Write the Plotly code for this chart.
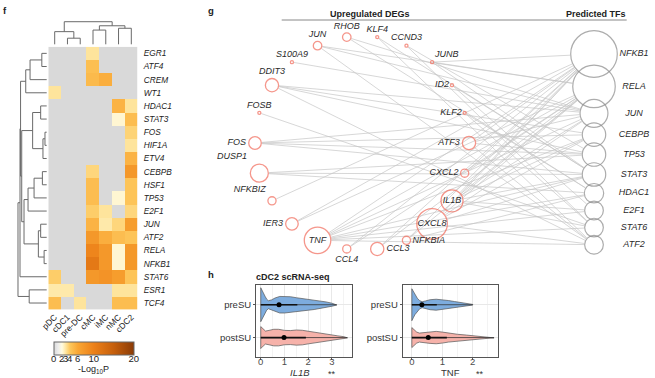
import math
import plotly.graph_objects as go

W, H = 655, 378
def fx(p): return p / W
def fy(p): return 1 - p / H

FONT = "Liberation Sans, Arial, sans-serif"

# ---------------- panel f : heatmap data ----------------
hm_cols = ["pDC", "cDC1", "pre-DC", "cMC", "iMC", "nMC", "cDC2"]
hm_rows = ["EGR1", "ATF4", "CREM", "WT1", "HDAC1", "STAT3", "FOS", "HIF1A", "ETV4",
           "CEBPB", "HSF1", "TP53", "E2F1", "JUN", "ATF2", "RELA", "NFKB1", "STAT6",
           "ESR1", "TCF4"]
hm_vals = [
    [0, 0, 0, 3.0, 0, 0, 0],          # EGR1
    [0, 0, 0, 4.5, 0, 0, 0],          # ATF4
    [0, 0, 0, 4.8, 5.5, 0, 0],        # CREM
    [3.0, 0, 0, 0, 0, 0, 0],          # WT1
    [0, 0, 0, 0, 0, 5.2, 3.0],        # HDAC1
    [0, 0, 0, 0, 0, 2.2, 4.6],        # STAT3
    [0, 0, 0, 0, 0, 0, 3.6],          # FOS
    [0, 0, 0, 0, 0, 0, 3.0],          # HIF1A
    [0, 0, 0, 0, 0, 0, 5.2],          # ETV4
    [0, 0, 0, 3.5, 0, 0, 7.5],        # CEBPB
    [0, 0, 0, 4.6, 0, 0, 4.2],        # HSF1
    [0, 0, 0, 4.6, 0, 2.2, 4.2],      # TP53
    [0, 0, 0, 3.8, 3.0, 0, 3.5],      # E2F1
    [0, 0, 0, 5.2, 2.8, 3.5, 7.0],    # JUN
    [0, 0, 0, 7.5, 5.5, 4.6, 4.2],    # ATF2
    [0, 0, 0, 9.5, 7.5, 2.2, 7.5],    # RELA
    [0, 0, 0, 11.0, 7.5, 2.2, 7.5],   # NFKB1
    [3.8, 0, 0, 7.5, 8.0, 7.0, 4.2],  # STAT6
    [2.8, 2.8, 0, 0, 0, 3.0, 3.0],    # ESR1
    [4.6, 0, 3.0, 0, 0, 4.6, 4.6],    # TCF4
]
cbar_ticks = [0, 2, 3, 4, 6, 10, 20]
# hierarchical clustering merges: (child a, child b, height)
col_merges = [(1, 2, 2.7), (0, 7, 5.6), (3, 4, 6.3), (5, 6, 7.1), (9, 10, 8.2), (8, 11, 10.0)]
row_merges = [(0, 1, 1.7), (20, 2, 5.8), (21, 3, 7.3), (4, 5, 2.1), (6, 7, 0.6), (24, 8, 1.3),
              (23, 25, 4.9), (9, 10, 1.5), (27, 11, 4.4), (28, 12, 6.5), (13, 14, 2.1),
              (15, 16, 0.9), (30, 31, 2.9), (29, 32, 7.9), (26, 33, 8.7), (22, 34, 9.1),
              (35, 17, 9.3), (18, 19, 6.1), (36, 37, 10.0)]

# ---------------- panel g : network data ----------------
deg_names = ["ATF3", "KLF2", "ID2", "JUNB", "CCND3", "KLF4", "RHOB", "JUN", "S100A9", "DDIT3",
             "FOSB", "FOS", "DUSP1", "NFKBIZ", "IER3", "TNF", "CCL4", "CCL3", "NFKBIA",
             "CXCL8", "IL1B", "CXCL2"]
deg_weight = [3.9, 0.9, 0.9, 0.9, 0.9, 0.9, 2.5, 2.5, 0.9, 3.9,
              0.9, 3.7, 5.3, 2.4, 3.7, 7.8, 2.4, 3.9, 2.4,
              9.0, 6.5, 2.4]
tf_names = ["NFKB1", "RELA", "JUN", "CEBPB", "TP53", "STAT3", "HDAC1", "E2F1", "STAT6", "ATF2"]
tf_weight = [13.7, 12.5, 8.2, 6.9, 6.9, 6.9, 5.7, 5.5, 5.5, 5.5]
edges = [
    ("TNF", "NFKB1"), ("TNF", "RELA"), ("TNF", "JUN"), ("TNF", "CEBPB"), ("TNF", "STAT3"),
    ("TNF", "HDAC1"), ("TNF", "STAT6"), ("TNF", "ATF2"), ("TNF", "E2F1"),
    ("CXCL8", "NFKB1"), ("CXCL8", "RELA"), ("CXCL8", "JUN"), ("CXCL8", "CEBPB"),
    ("CXCL8", "STAT3"), ("CXCL8", "ATF2"),
    ("IL1B", "NFKB1"), ("IL1B", "RELA"), ("IL1B", "JUN"), ("IL1B", "CEBPB"),
    ("IL1B", "STAT3"), ("IL1B", "STAT6"), ("IL1B", "E2F1"),
    ("CCL4", "NFKB1"), ("CCL4", "RELA"), ("CCL3", "NFKB1"), ("CCL3", "RELA"),
    ("NFKBIA", "NFKB1"), ("NFKBIA", "RELA"), ("NFKBIA", "HDAC1"),
    ("IER3", "NFKB1"), ("IER3", "RELA"), ("NFKBIZ", "NFKB1"),
    ("DUSP1", "HDAC1"), ("DUSP1", "STAT3"), ("DUSP1", "TP53"),
    ("FOS", "STAT3"), ("FOS", "TP53"), ("FOS", "JUN"), ("FOS", "CEBPB"),
    ("FOSB", "STAT6"),
    ("DDIT3", "JUN"), ("DDIT3", "CEBPB"), ("DDIT3", "TP53"), ("DDIT3", "ATF2"),
    ("S100A9", "JUN"), ("JUN", "JUN"), ("JUN", "RELA"), ("JUN", "ATF2"),
    ("RHOB", "JUN"), ("RHOB", "HDAC1"), ("KLF4", "STAT3"), ("KLF4", "ATF2"),
    ("CCND3", "TP53"), ("CCND3", "STAT6"),
    ("JUNB", "NFKB1"), ("JUNB", "RELA"), ("JUNB", "STAT3"),
    ("ID2", "STAT3"), ("ID2", "E2F1"), ("KLF2", "HDAC1"), ("KLF2", "STAT6"),
    ("ATF3", "NFKB1"), ("ATF3", "JUN"), ("ATF3", "TP53"), ("ATF3", "ATF2"),
    ("CXCL2", "NFKB1"), ("CXCL2", "RELA"),
]

# ---------------- panel h : violin data (expression grid, relative density) ----------------
il1b_pre_x = [0, 0.05, 0.1, 0.18, 0.25, 0.32, 0.45, 0.6, 0.8, 1.0, 1.25, 1.5, 1.75, 2.0, 2.25, 2.5, 2.75, 3.0, 3.2]
il1b_pre_d = [17, 15, 12, 8.5, 5.5, 4, 4.8, 6.7, 8.3, 8.3, 8, 7, 6.2, 5.5, 4.8, 3.8, 2.8, 1.5, 0.3]
il1b_post_x = [0, 0.1, 0.2, 0.35, 0.55, 0.75, 1.0, 1.25, 1.5, 1.75, 2.0, 2.25, 2.5, 2.75, 3.0, 3.25, 3.5, 3.65]
il1b_post_d = [11, 8.5, 6.5, 7.2, 8.3, 8.3, 7.2, 7, 7.6, 7.3, 6.3, 5, 4, 3.2, 2.5, 1.7, 0.9, 0.3]
tnf_pre_x = [0, 0.05, 0.1, 0.18, 0.26, 0.34, 0.45, 0.6, 0.8, 1.0, 1.2, 1.4, 1.6, 1.8, 2.0]
tnf_pre_d = [16, 13, 10, 6.5, 4, 3, 3.8, 5, 5.5, 5, 4.2, 3.2, 2.3, 1.2, 0.3]
tnf_post_x = [0, 0.08, 0.16, 0.25, 0.4, 0.6, 0.8, 1.0, 1.2, 1.5, 1.8, 2.1, 2.4, 2.7]
tnf_post_d = [10, 7.5, 5.5, 4.5, 5, 5.8, 6.2, 5.5, 4.5, 3.3, 2.5, 1.7, 1.0, 0.3]
il1b_mean = [0.77, 0.98]     # preSU, postSU
il1b_upper = [1.54, 1.9]
tnf_mean = [0.33, 0.54]
tnf_upper = [0.82, 1.15]
groups = ["preSU", "postSU"]

# ======================================================================
traces = []

# --- heatmap ---
cscale = [[0, '#d9d9d9'], [0.05, '#ececec'], [0.1, '#fffbe0'], [0.15, '#fee49c'],
          [0.2, '#fdc75c'], [0.3, '#f9a634'], [0.5, '#ec8019'], [0.75, '#c55f0c'], [1, '#8a3b07']]
traces.append(go.Heatmap(
    z=hm_vals, x=list(range(len(hm_cols))), y=list(range(len(hm_rows))),
    zmin=0, zmax=20, colorscale=cscale, xaxis='x', yaxis='y', hoverinfo='skip',
    colorbar=dict(orientation='h', x=fx(93.7), xanchor='center', y=fy(341.7), yanchor='top',
                  len=80, lenmode='pixels', thickness=13, showticklabels=False,
                  ticks='', outlinewidth=1, outlinecolor='#666', xpad=0, ypad=0)))
# axis carrying the colorbar's tick labels
traces.append(go.Scatter(x=[0, 20], y=[0, 0], mode='markers', marker=dict(opacity=0),
                         xaxis='x7', yaxis='y7', hoverinfo='skip'))


def dendro(merges, n):
    pos = {i: float(i) for i in range(n)}
    hgt = {i: 0.0 for i in range(n)}
    P, Hh = [], []
    for k, (a, b, h) in enumerate(merges):
        P += [pos[a], pos[a], pos[b], pos[b], None]
        Hh += [hgt[a], h, h, hgt[b], None]
        pos[n + k] = (pos[a] + pos[b]) / 2
        hgt[n + k] = h
    return P, Hh

cp, ch = dendro(col_merges, len(hm_cols))
traces.append(go.Scatter(x=cp, y=ch, mode='lines', line=dict(color='#6a6a6a', width=1),
                         xaxis='x2', yaxis='y2', hoverinfo='skip'))
rp, rh = dendro(row_merges, len(hm_rows))
traces.append(go.Scatter(x=rh, y=rp, mode='lines', line=dict(color='#6a6a6a', width=1),
                         xaxis='x3', yaxis='y3', hoverinfo='skip'))

# --- network ---
R = 107.0
RS = 1.7
n = len(deg_names)
deg_x = [R * math.cos(2 * math.pi * k / n) for k in range(n)]
deg_y = [R * math.sin(2 * math.pi * k / n) for k in range(n)]
deg_r = [RS * w for w in deg_weight]
tf_r = [RS * w for w in tf_weight]
TF_X = 232.0
tf_y = [89.0]
for i in range(1, len(tf_names)):
    tf_y.append(tf_y[-1] - (6 + 0.594 * (tf_r[i - 1] + tf_r[i])))

ex, ey = [], []
for d, t in edges:
    i = deg_names.index(d); j = tf_names.index(t)
    x1, y1, x2, y2 = deg_x[i], deg_y[i], TF_X, tf_y[j]
    L = math.hypot(x2 - x1, y2 - y1)
    ux, uy = (x2 - x1) / L, (y2 - y1) / L
    a = deg_r[i] + 0.6; b = tf_r[j] + 0.6
    ex += [x1 + ux * a, x2 - ux * b, None]
    ey += [y1 + uy * a, y2 - uy * b, None]
traces.append(go.Scatter(x=ex, y=ey, mode='lines', line=dict(color='#c6c6c6', width=0.7),
                         xaxis='x4', yaxis='y4', hoverinfo='skip'))

lab_pos = {"ATF3": "middle left", "KLF2": "middle left", "ID2": "middle left",
           "JUNB": "top right", "CCND3": "top center", "KLF4": "top center",
           "RHOB": "top center", "JUN": "top center", "S100A9": "top center",
           "DDIT3": "top center", "FOSB": "top center", "FOS": "middle left",
           "DUSP1": "top left", "NFKBIZ": "top left", "IER3": "middle left",
           "TNF": "middle center", "CCL4": "bottom center", "CCL3": "middle right",
           "NFKBIA": "middle right", "CXCL8": "middle center", "IL1B": "middle center",
           "CXCL2": "middle left"}
traces.append(go.Scatter(
    x=deg_x, y=deg_y, mode='markers+text', xaxis='x4', yaxis='y4', hoverinfo='skip',
    marker=dict(size=[2 * r for r in deg_r], color='rgba(255,255,255,0)',
                line=dict(color='#F26B5B', width=1.3)),
    text=['<i>%s</i>' % s for s in deg_names],
    textposition=[lab_pos[s] for s in deg_names],
    textfont=dict(size=9, color='#2a2a2a', family=FONT), cliponaxis=False))
traces.append(go.Scatter(
    x=[TF_X] * len(tf_names), y=tf_y, mode='markers', xaxis='x4', yaxis='y4', hoverinfo='skip',
    marker=dict(size=[2 * r for r in tf_r], color='rgba(255,255,255,0)',
                line=dict(color='#8a8a8a', width=1.2)), cliponaxis=False))
traces.append(go.Scatter(
    x=[TF_X + 40] * len(tf_names), y=tf_y, mode='text', xaxis='x4', yaxis='y4', hoverinfo='skip',
    text=['<i>%s</i>' % s for s in tf_names], textposition='middle center',
    textfont=dict(size=9, color='#2a2a2a', family=FONT), cliponaxis=False))

# --- violins ---
VS = 1 / 32.9
def vpoly(xg, dg, yc):
    hw = [d * VS for d in dg]
    xs = list(xg) + list(reversed(xg)) + [xg[0]]
    ys = [yc + h for h in hw] + [yc - h for h in reversed(hw)] + [yc + hw[0]]
    return xs, ys

panels = [
    ('x5', 'y5', [(il1b_pre_x, il1b_pre_d), (il1b_post_x, il1b_post_d)], il1b_mean, il1b_upper),
    ('x6', 'y6', [(tnf_pre_x, tnf_pre_d), (tnf_post_x, tnf_post_d)], tnf_mean, tnf_upper),
]
fills = ['#7dacde', '#f6b2aa']
ypos = [1, 0]
for xa, ya, vd, means, uppers in panels:
    for g in range(2):
        xg, dg = vd[g]
        xs, ys = vpoly(xg, dg, ypos[g])
        traces.append(go.Scatter(x=xs, y=ys, mode='lines', fill='toself', fillcolor=fills[g],
                                 line=dict(color='#555555', width=0.7), xaxis=xa, yaxis=ya,
                                 hoverinfo='skip'))
        traces.append(go.Scatter(x=[xg[0], xg[-1]], y=[ypos[g], ypos[g]], mode='lines',
                                 line=dict(color='#333333', width=0.8), xaxis=xa, yaxis=ya,
                                 hoverinfo='skip'))
        traces.append(go.Scatter(x=[xg[0], uppers[g]], y=[ypos[g], ypos[g]], mode='lines',
                                 line=dict(color='#111111', width=1.6), xaxis=xa, yaxis=ya,
                                 hoverinfo='skip'))
        traces.append(go.Scatter(x=[means[g]], y=[ypos[g]], mode='markers',
                                 marker=dict(color='#000000', size=5), xaxis=xa, yaxis=ya,
                                 hoverinfo='skip'))

fig = go.Figure(traces)

hidden = dict(visible=False, showgrid=False, zeroline=False)
hm_xdom = [fx(48.3), fx(137.7)]
hm_ydom = [fy(309.6), fy(46.8)]

def vx(dom, rng, anchor, tv):
    return dict(domain=dom, range=rng, anchor=anchor, tickvals=tv,
                showline=True, mirror=True, linecolor='#555', linewidth=1,
                showgrid=True, gridcolor='#e8e8e8', gridwidth=0.8,
                minor=dict(dtick=0.5, tick0=0, showgrid=True, gridcolor='#f3f3f3', gridwidth=0.5),
                ticks='outside', ticklen=2, tickcolor='#555', zeroline=False,
                ticklabelstandoff=-7, tickangle=0,
                tickfont=dict(size=9.5, color='#4d4d4d', family=FONT))

def vy(dom, anchor):
    return dict(domain=dom, range=[-0.6, 1.6], anchor=anchor, tickvals=[1, 0],
                ticktext=groups, showline=True, mirror=True, linecolor='#555', linewidth=1,
                showgrid=True, gridcolor='#e8e8e8', gridwidth=0.8, zeroline=False,
                ticks='outside', ticklen=2, tickcolor='#555',
                tickfont=dict(size=9.5, color='#333', family=FONT))

v_ydom = [fy(357.3), fy(285)]

fig.update_layout(
    width=W, height=H, margin=dict(l=0, r=0, t=0, b=0, autoexpand=False),
    paper_bgcolor='white', plot_bgcolor='white', showlegend=False,
    font=dict(family=FONT, color='#222'),
    xaxis=dict(domain=hm_xdom, range=[-0.5, 6.5], anchor='y', tickvals=list(range(7)),
               ticktext=hm_cols, tickangle=-45, showgrid=False, zeroline=False, ticks='',
               tickfont=dict(size=8.5, color='#222', family=FONT)),
    yaxis=dict(domain=hm_ydom, range=[19.5, -0.5], anchor='x', side='right',
               tickvals=list(range(20)), ticktext=['<i>%s</i>' % s for s in hm_rows],
               showgrid=False, zeroline=False, ticks='', ticklabelstandoff=5,
               tickfont=dict(size=8.3, color='#222', family=FONT)),
    xaxis2=dict(domain=hm_xdom, range=[-0.5, 6.5], anchor='y2', **hidden),
    yaxis2=dict(domain=[fy(45), fy(19)], range=[-0.31, 11.2], anchor='x2', **hidden),
    xaxis3=dict(domain=[fx(14), fx(47.5)], range=[11.39, -0.28], anchor='y3', **hidden),
    yaxis3=dict(domain=hm_ydom, range=[19.5, -0.5], anchor='x3', **hidden),
    xaxis4=dict(domain=[fx(215), 1], range=[-147, 293], anchor='y4', **hidden),
    yaxis4=dict(domain=[fy(268), fy(22)], range=[-125, 121], anchor='x4', **hidden),
    xaxis5=vx([fx(256), fx(351.7)], [-0.2, 3.83], 'y5', [0, 1, 2, 3]),
    yaxis5=vy(v_ydom, 'x5'),
    xaxis6=vx([fx(402.7), fx(497.7)], [-0.3, 2.82], 'y6', [0, 1, 2]),
    yaxis6=vy(v_ydom, 'x6'),
    xaxis7=dict(domain=[fx(53.7), fx(133.7)], range=[0, 20], anchor='y7', tickvals=cbar_ticks,
                showgrid=False, zeroline=False, showline=False, ticks='', tickangle=0,
                ticklabelstandoff=-4, tickfont=dict(size=9.5, color='#222', family=FONT)),
    yaxis7=dict(domain=[fy(355.3), fy(354.3)], range=[-1, 1], anchor='x7', **hidden),
)

def ann(x, y, text, size=9, bold=False, color='#222', xanchor='center'):
    t = '<b>%s</b>' % text if bold else text
    return dict(x=fx(x), y=fy(y), xref='paper', yref='paper', text=t, showarrow=False,
                xanchor=xanchor, yanchor='middle', font=dict(size=size, color=color, family=FONT))

fig.update_layout(annotations=[
    ann(5, 10, 'f', 9.5, True), ann(211, 11, 'g', 9.5, True), ann(211, 274, 'h', 9.5, True),
    ann(369.5, 14, 'Upregulated DEGs', 9, True), ann(596, 14, 'Predicted TFs', 9, True),
    ann(292.5, 277, 'cDC2 scRNA-seq', 9, True),
    ann(93.5, 369, '-Log<sub>10</sub>P', 9),
    ann(300, 372, '<i>IL1B</i>', 9.5, color='#333'), ann(332, 373.5, '**', 9, color='#333'),
    ann(450, 372, 'TNF', 9.5, color='#333'), ann(480, 373.5, '**', 9, color='#333'),
], shapes=[dict(type='line', xref='paper', yref='paper', x0=fx(281.7), x1=fx(626.7),
                y0=fy(20), y1=fy(20), line=dict(color='#888', width=1))])

fig.write_html("out.html", config={'displayModeBar': False},
               post_script="document.body.style.margin='0';document.body.style.overflow='hidden';")
